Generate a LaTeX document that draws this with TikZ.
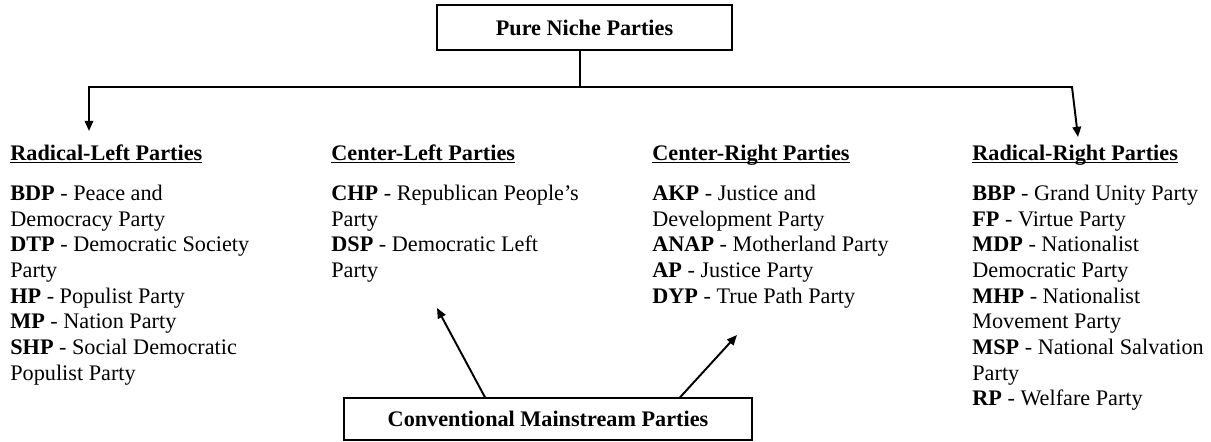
\documentclass[tikz,border=0pt]{standalone}
\usepackage{fontspec}
\setmainfont{Liberation Serif}
\usetikzlibrary{arrows.meta,positioning}

\newcommand{\grouptitle}[1]{\underline{\smash{\textbf{#1}}}}

\begin{document}
\begin{tikzpicture}[x=0.54pt, y=-0.54pt, >={Triangle[length=5.5pt,width=4.6pt]},
    every node/.style={font=\fontsize{12}{13.88}\selectfont},
    framebox/.style={draw, line width=0.7pt, minimum width=159.3pt, minimum height=24.3pt, inner sep=0pt, font=\fontsize{12}{13.88}\selectfont\bfseries},
    grouphead/.style={anchor=base west, inner sep=0pt},
    grouplist/.style={anchor=north west, inner sep=0pt, align=left},
    link/.style={line width=1.05pt}]
    \useasboundingbox (0,0) rectangle (1211,441);

    % boxes
    \node[framebox]                          (pure) at (584.5,27.5) {Pure Niche Parties};
    \node[framebox, minimum width=220.3pt,
          minimum height=22.7pt]             (conv) at (548,419)    {Conventional Mainstream Parties};

    % group titles
    \node[grouphead] (rlhead) at (10,160)  {\grouptitle{Radical-Left Parties}};
    \node[grouphead] (clhead) at (331,160) {\grouptitle{Center-Left Parties}};
    \node[grouphead] (crhead) at (652,160) {\grouptitle{Center-Right Parties}};
    \node[grouphead] (rrhead) at (972,160) {\grouptitle{Radical-Right Parties}};

    % party lists
    \node[grouplist] (rllist) at (10,184.5)  {\textbf{BDP} - Peace and\\ Democracy Party\\ \textbf{DTP} - Democratic Society\\ Party\\ \textbf{HP} - Populist Party\\ \textbf{MP} - Nation Party\\ \textbf{SHP} - Social Democratic\\ Populist Party};
    \node[grouplist] (cllist) at (331,184.5) {\textbf{CHP} - Republican People’s\\ Party\\ \textbf{DSP} - Democratic Left\\ Party};
    \node[grouplist] (crlist) at (652,184.5) {\textbf{AKP} - Justice and\\ Development Party\\ \textbf{ANAP} - Motherland Party\\ \textbf{AP} - Justice Party\\ \textbf{DYP} - True Path Party};
    \node[grouplist] (rrlist) at (972,184.5) {\textbf{BBP} - Grand Unity Party\\ \textbf{FP} - Virtue Party\\ \textbf{MDP} - Nationalist\\ Democratic Party\\ \textbf{MHP} - Nationalist\\ Movement Party\\ \textbf{MSP} - National Salvation\\ Party\\ \textbf{RP} - Welfare Party};

    % branch points and arrow ends
    \coordinate (jl)  at (89,87);
    \coordinate (jr)  at (1072,87);
    \coordinate (tl)  at (89,131);
    \coordinate (tr)  at (1078,137);
    \coordinate (tcl) at (437,308);
    \coordinate (tcr) at (737,335);

    \draw[link] ([xshift=-2.4pt]pure.south) -- ([xshift=-2.4pt]pure.south |- jl);
    \draw[link,<->] (tl) -- (jl) -- (jr) -- (tr);
    \draw[link,->] ([xshift=-34pt]conv.north) -- (tcl);
    \draw[link,->] ([xshift=71.3pt]conv.north) -- (tcr);
\end{tikzpicture}
\end{document}
